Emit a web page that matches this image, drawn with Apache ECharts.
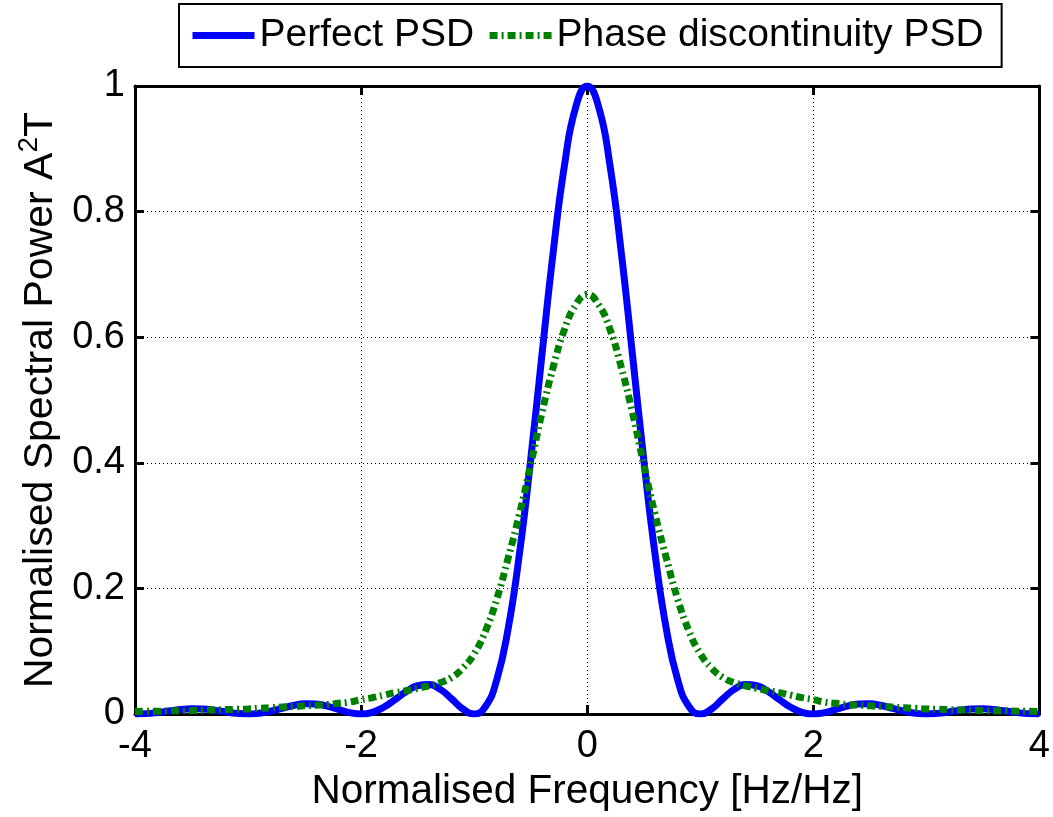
<!DOCTYPE html>
<html>
<head>
<meta charset="utf-8">
<script src="https://cdn.jsdelivr.net/npm/echarts@6/dist/echarts.min.js"></script>
<style>
html,body{margin:0;padding:0;background:#fff;}
#chart{width:1053px;height:817px;}
</style>
</head>
<body>
<div id="chart"></div>
<script>
var freqs = [-4.0,-3.9,-3.8,-3.7,-3.6,-3.5,-3.4,-3.3,-3.2,-3.1,-3.0,-2.9,-2.8,-2.7,-2.6,-2.5,-2.4,-2.3,-2.2,-2.1,-2.0,-1.9,-1.8,-1.7,-1.6,-1.5,-1.4,-1.3,-1.2,-1.1,-1.0,-0.9,-0.8,-0.7,-0.6,-0.5,-0.4,-0.3,-0.2,-0.1,0.0,0.1,0.2,0.3,0.4,0.5,0.6,0.7,0.8,0.9,1.0,1.1,1.2,1.3,1.4,1.5,1.6,1.7,1.8,1.9,2.0,2.1,2.2,2.3,2.4,2.5,2.6,2.7,2.8,2.9,3.0,3.1,3.2,3.3,3.4,3.5,3.6,3.7,3.8,3.9,4.0];

var perfectPSD = [0,0.0006,0.0024,0.0048,0.0071,0.0083,0.0079,0.0061,0.0034,0.0010,0,0.0012,0.0045,0.0091,0.0136,0.0162,0.0159,0.0125,0.0072,0.0022,0,0.0027,0.0108,0.0229,0.0358,0.0450,0.0468,0.0392,0.0243,0.0080,0,0.0119,0.0547,0.1353,0.2546,0.4053,0.5728,0.7368,0.8751,0.9675,1,0.9675,0.8751,0.7368,0.5728,0.4053,0.2546,0.1353,0.0547,0.0119,0,0.0080,0.0243,0.0392,0.0468,0.0450,0.0358,0.0229,0.0108,0.0027,0,0.0022,0.0072,0.0125,0.0159,0.0162,0.0136,0.0091,0.0045,0.0012,0,0.0010,0.0034,0.0061,0.0079,0.0083,0.0071,0.0048,0.0024,0.0006,0];

var phasePSD = [0.004,0.0045,0.0045,0.005,0.005,0.0055,0.006,0.0065,0.007,0.0075,0.008,0.009,0.010,0.011,0.012,0.013,0.014,0.015,0.017,0.019,0.023,0.026,0.030,0.034,0.037,0.041,0.045,0.050,0.058,0.073,0.096,0.132,0.183,0.248,0.318,0.397,0.480,0.553,0.613,0.652,0.668,0.652,0.613,0.553,0.480,0.397,0.318,0.248,0.183,0.132,0.096,0.073,0.058,0.050,0.045,0.041,0.037,0.034,0.030,0.026,0.023,0.019,0.017,0.015,0.014,0.013,0.012,0.011,0.010,0.009,0.008,0.0075,0.007,0.0065,0.006,0.0055,0.005,0.005,0.0045,0.0045,0.004];

var seriesNames = ['Perfect PSD', 'Phase discontinuity PSD'];
var xLabel = 'Normalised Frequency [Hz/Hz]';

function pairs(xs, ys){ return xs.map(function(x,i){ return [x, ys[i]]; }); }

var FONT = '"Liberation Sans", Arial, Helvetica, sans-serif';
var chart = echarts.init(document.getElementById('chart'), null, {renderer:'canvas'});
var axisLineStyle = {color:'#000', width:3};
chart.setOption({
  animation:false,
  backgroundColor:'#fff',
  textStyle:{fontFamily:FONT, color:'#000'},
  legend:{
    left:179, top:4,
    padding:[12,18,12,10],
    borderColor:'#000', borderWidth:2,
    itemWidth:62, itemHeight:14, itemGap:12,
    lineStyle:{width:7},
    itemStyle:{opacity:0},
    textStyle:{fontSize:39, color:'#000', fontFamily:FONT},
    data:seriesNames
  },
  grid:{left:135, right:10, top:86, bottom:99},
  xAxis:[{
    type:'value', min:-4, max:4, interval:2,
    name:xLabel, nameLocation:'middle', nameGap:57,
    nameTextStyle:{fontSize:40.5, color:'#000', fontFamily:FONT},
    axisLine:{onZero:false, lineStyle:axisLineStyle},
    axisTick:{inside:true, length:9, lineStyle:{color:'#000', width:3}},
    axisLabel:{fontSize:38, color:'#000', margin:14, fontFamily:FONT},
    splitLine:{show:true, lineStyle:{color:'#000', width:1, type:[1,3]}}
  },{
    type:'value', min:-4, max:4, interval:2, position:'top',
    axisLine:{onZero:false, lineStyle:axisLineStyle},
    axisTick:{inside:true, length:9, lineStyle:{color:'#000', width:3}},
    axisLabel:{show:false}, splitLine:{show:false}
  }],
  yAxis:[{
    type:'value', min:0, max:1, interval:0.2,
    name:'{n|Normalised Spectral Power A}{s|2}{n|T}', nameLocation:'middle', nameGap:68,
    nameTextStyle:{fontSize:41, color:'#000', fontFamily:FONT,
      rich:{n:{fontSize:41, fontFamily:FONT, color:'#000'}, s:{fontSize:28, fontFamily:FONT, color:'#000', verticalAlign:'top', padding:[0,0,22,0]}}},
    axisLine:{onZero:false, lineStyle:axisLineStyle},
    axisTick:{inside:true, length:9, lineStyle:{color:'#000', width:3}},
    axisLabel:{fontSize:38, color:'#000', margin:10, fontFamily:FONT},
    splitLine:{show:true, lineStyle:{color:'#000', width:1, type:[1,3]}}
  },{
    type:'value', min:0, max:1, interval:0.2, position:'right',
    axisLine:{show:true, onZero:false, lineStyle:axisLineStyle},
    axisTick:{show:true, inside:true, length:9, lineStyle:{color:'#000', width:3}},
    axisLabel:{show:false}, splitLine:{show:false}
  }],
  series:[{
    name:seriesNames[0], type:'line', data:pairs(freqs, perfectPSD),
    symbol:'none', showSymbol:false, smooth:0.5, clip:true,
    lineStyle:{color:'#0000ff', width:7},
    itemStyle:{color:'#0000ff'}
  },{
    name:seriesNames[1], type:'line', data:pairs(freqs, phasePSD),
    symbol:'none', showSymbol:false, smooth:0.5, clip:true,
    lineStyle:{color:'#008000', width:7, type:[8,4,2,4]},
    itemStyle:{color:'#008000'}
  }]
});
</script>
</body>
</html>
